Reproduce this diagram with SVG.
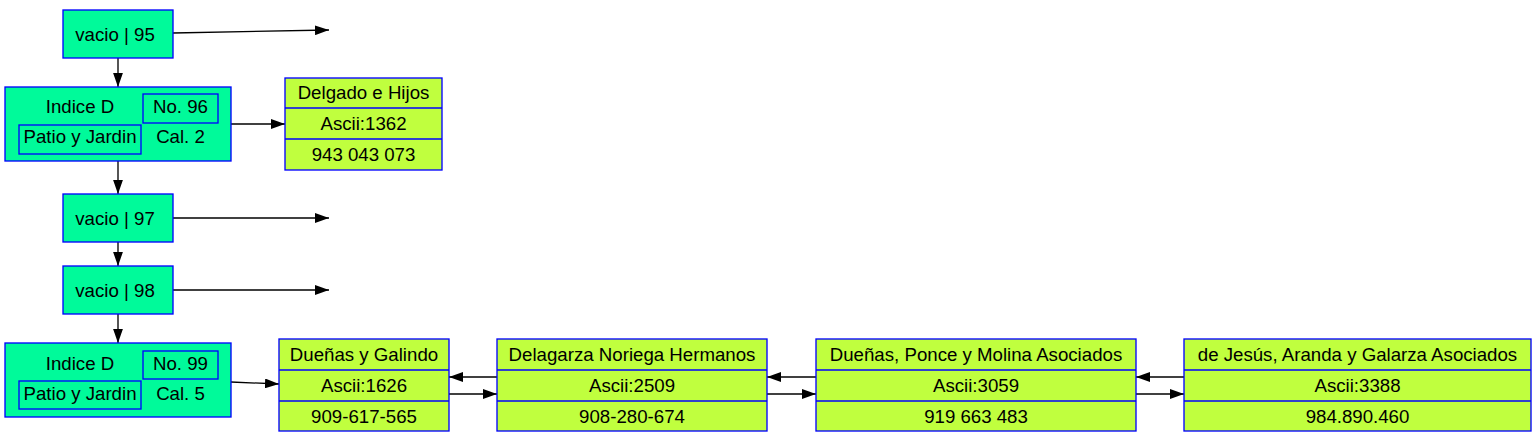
<svg xmlns="http://www.w3.org/2000/svg" width="1537" height="437" viewBox="0 0 1537 437">
<style>
.g{fill:#00FA9A;stroke:#0000FF;stroke-width:1.33}
.y{fill:#C0FF3E;stroke:#0000FF;stroke-width:1.33}
.in{fill:none;stroke:#0000FF;stroke-width:1.33}
.sep{stroke:#0000FF;stroke-width:1.33}
text{font-family:"Liberation Sans",Arial,sans-serif;font-size:18.67px;fill:#000;text-anchor:middle}
.e{fill:none;stroke:#000;stroke-width:1.33;marker-end:url(#ah)}
</style>
<defs>
<marker id="ah" viewBox="0 0 10 7" refX="10" refY="3.5" markerUnits="userSpaceOnUse" markerWidth="14" markerHeight="9.8" orient="auto">
<path d="M0,0 L10,3.5 L0,7 z" fill="#000"/>
</marker>
</defs>
<rect width="1537" height="437" fill="#fff"/>
<g id="connectors">
<path class="e" d="M118,58 L118,87"/>
<path class="e" d="M118,161 L118,194"/>
<path class="e" d="M118,242 L118,266"/>
<path class="e" d="M118,314 L118,343"/>
<path class="e" d="M173,33 L329,30"/>
<path class="e" d="M173,218 L329,218"/>
<path class="e" d="M173,290 L329,290"/>
<path class="e" d="M231,124 L285,124"/>
<path class="e" d="M231,382 L279,384"/>
<path class="e" d="M449,394 L497,394"/>
<path class="e" d="M767,394 L816,394"/>
<path class="e" d="M1136,394 L1184,394"/>
<path class="e" d="M497,377 L449,377"/>
<path class="e" d="M816,377 L767,377"/>
<path class="e" d="M1184,377 L1136,377"/>
</g>
<g id="n95">
<rect class="g" x="63" y="10" width="110" height="48"/>
<text x="115" y="40.5">vacio | 95</text>
</g>
<g id="n96">
<rect class="g" x="5" y="87" width="226" height="74"/>
<text x="80" y="113">Indice D</text>
<rect class="in" x="143" y="94" width="75" height="29"/>
<text x="180.5" y="113">No. 96</text>
<rect class="in" x="19" y="125" width="122" height="29"/>
<text x="80" y="143">Patio y Jardin</text>
<text x="180.5" y="143">Cal. 2</text>
</g>
<g id="delgado">
<rect class="y" x="285" y="78" width="157" height="92"/>
<line class="sep" x1="285" y1="108" x2="442" y2="108"/>
<line class="sep" x1="285" y1="139" x2="442" y2="139"/>
<text x="363.5" y="99">Delgado e Hijos</text>
<text x="363.5" y="130">Ascii:1362</text>
<text x="363.5" y="161">943 043 073</text>
</g>
<g id="n97">
<rect class="g" x="63" y="194" width="110" height="48"/>
<text x="115" y="224.5">vacio | 97</text>
</g>
<g id="n98">
<rect class="g" x="63" y="266" width="110" height="48"/>
<text x="115" y="296.5">vacio | 98</text>
</g>
<g id="n99">
<rect class="g" x="5" y="343" width="226" height="74"/>
<text x="80" y="370">Indice D</text>
<rect class="in" x="143" y="351" width="75" height="28"/>
<text x="180.5" y="370">No. 99</text>
<rect class="in" x="19" y="381" width="122" height="28"/>
<text x="80" y="400">Patio y Jardin</text>
<text x="180.5" y="400">Cal. 5</text>
</g>
<g id="duenas_galindo">
<rect class="y" x="279" y="339" width="170" height="92"/>
<line class="sep" x1="279" y1="370" x2="449" y2="370"/>
<line class="sep" x1="279" y1="401" x2="449" y2="401"/>
<text x="364" y="361">Dueñas y Galindo</text>
<text x="364" y="392">Ascii:1626</text>
<text x="364" y="422.5">909-617-565</text>
</g>
<g id="delagarza">
<rect class="y" x="497" y="339" width="270" height="92"/>
<line class="sep" x1="497" y1="370" x2="767" y2="370"/>
<line class="sep" x1="497" y1="401" x2="767" y2="401"/>
<text x="632" y="361">Delagarza Noriega Hermanos</text>
<text x="632" y="392">Ascii:2509</text>
<text x="632" y="422.5">908-280-674</text>
</g>
<g id="duenas_ponce">
<rect class="y" x="816" y="339" width="320" height="92"/>
<line class="sep" x1="816" y1="370" x2="1136" y2="370"/>
<line class="sep" x1="816" y1="401" x2="1136" y2="401"/>
<text x="976" y="361">Dueñas, Ponce y Molina Asociados</text>
<text x="976" y="392">Ascii:3059</text>
<text x="976" y="422.5">919 663 483</text>
</g>
<g id="de_jesus">
<rect class="y" x="1184" y="339" width="347" height="92"/>
<line class="sep" x1="1184" y1="370" x2="1531" y2="370"/>
<line class="sep" x1="1184" y1="401" x2="1531" y2="401"/>
<text x="1357.5" y="361">de Jesús, Aranda y Galarza Asociados</text>
<text x="1357.5" y="392">Ascii:3388</text>
<text x="1357.5" y="422.5">984.890.460</text>
</g>
</svg>
